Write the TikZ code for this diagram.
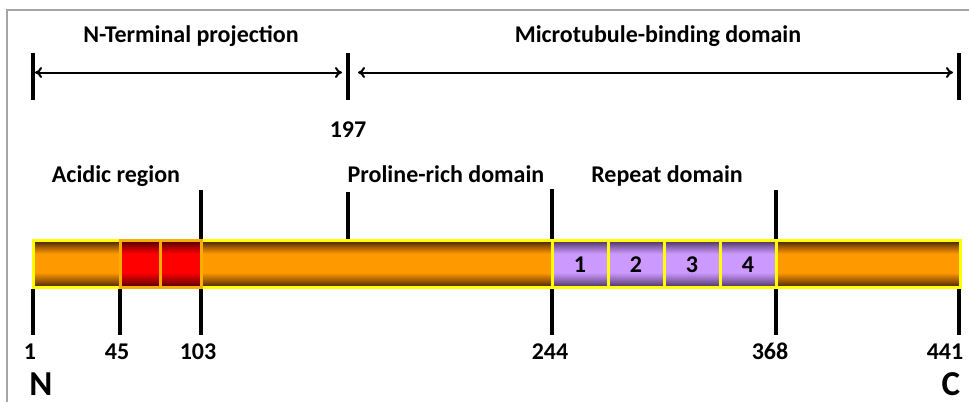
\documentclass[tikz,border=0pt]{standalone}
\usepackage{fontspec}
\setmainfont{Carlito}
\usetikzlibrary{arrows.meta}

% tube shadings: dark rim at top and bottom, bright core
\pgfdeclareverticalshading{orangetube}{100bp}{rgb(0bp)=(0.25,0.12,0); rgb(25bp)=(0.25,0.12,0); rgb(32bp)=(0.6,0.34,0); rgb(41bp)=(1,0.6,0); rgb(61bp)=(1,0.6,0); rgb(69bp)=(0.6,0.34,0); rgb(75bp)=(0.25,0.12,0); rgb(100bp)=(0.25,0.12,0)}
\pgfdeclareverticalshading{redtube}{100bp}{rgb(0bp)=(0.28,0,0); rgb(25bp)=(0.28,0,0); rgb(32bp)=(0.62,0,0); rgb(41bp)=(1,0,0); rgb(61bp)=(1,0,0); rgb(69bp)=(0.62,0,0); rgb(75bp)=(0.28,0,0); rgb(100bp)=(0.28,0,0)}
\pgfdeclareverticalshading{purpletube}{100bp}{rgb(0bp)=(0.28,0.18,0.36); rgb(25bp)=(0.28,0.18,0.36); rgb(32bp)=(0.52,0.38,0.66); rgb(41bp)=(0.8,0.6,1); rgb(61bp)=(0.8,0.6,1); rgb(69bp)=(0.52,0.38,0.66); rgb(75bp)=(0.28,0.18,0.36); rgb(100bp)=(0.28,0.18,0.36)}

\definecolor{rimyellow}{RGB}{255,255,0}
\definecolor{rimgold}{RGB}{245,175,0}
\definecolor{framegray}{RGB}{165,165,165}

\tikzset{
  tick/.style={line width=4pt},
  span/.style={line width=2pt,{To[length=7pt,width=11pt]}-{To[length=7pt,width=11pt]}},
  lbl/.style={font=\bfseries\fontsize{24}{27}\selectfont,anchor=base,inner sep=0pt},
  endlbl/.style={font=\bfseries\fontsize{35}{40}\selectfont,anchor=base,inner sep=0pt},
  seg/.style={line width=3pt},
}

\begin{document}
\begin{tikzpicture}[x=1pt,y=-1pt]
\useasboundingbox (0,0) rectangle (969,402);

% outer frame (top and left edges visible)
\draw[framegray,line width=2pt] (7,402) -- (7,9.5) -- (969,9.5);

% ---- domain brackets ----
\coordinate (bLtop) at (33,53);   \coordinate (bLbot) at (33,100);
\coordinate (bMtop) at (348,53);  \coordinate (bMbot) at (348,100);
\coordinate (bRtop) at (959,53);  \coordinate (bRbot) at (959,100);
\draw[tick] (bLtop) -- (bLbot);
\draw[tick] (bMtop) -- (bMbot);
\draw[tick] (bRtop) -- (bRbot);
\coordinate (a1s) at (35,72.5);  \coordinate (a1e) at (342,72.5);
\coordinate (a2s) at (358,72.5); \coordinate (a2e) at (953,72.5);
\draw[span] (a1s) -- (a1e);
\draw[span] (a2s) -- (a2e);
\node[lbl] (nterm) at (191,42) {N-Terminal projection};
\node[lbl] (mtbd) at (658,42) {Microtubule-binding domain};
\node[lbl] (n197) at (348,137) {197};

% ---- region labels ----
\node[lbl] (acidic) at (116,182) {Acidic region};
\node[lbl] (proline) at (446,182) {Proline-rich domain};
\node[lbl] (repeat) at (667,182) {Repeat domain};

% ticks above the bar
\coordinate (u103t) at (201,190); \coordinate (u103b) at (201,239);
\coordinate (u197t) at (348,192); \coordinate (u197b) at (348,239);
\coordinate (u244t) at (552,189); \coordinate (u244b) at (552,239);
\coordinate (u368t) at (776,190); \coordinate (u368b) at (776,239);
\draw[tick] (u103t) -- (u103b);
\draw[tick] (u197t) -- (u197b);
\draw[tick] (u244t) -- (u244b);
\draw[tick] (u368t) -- (u368b);

% ---- the protein bar ----
\draw[seg,rimyellow,shading=orangetube] (33.5,240.5) rectangle (960.5,287.5);
\draw[seg,rimgold,shading=redtube] (120,240.5) rectangle (160,287.5);
\draw[seg,rimgold,shading=redtube] (160,240.5) rectangle (201,287.5);
\foreach \xa/\xb [count=\i] in {552/608,608/664,664/720,720/776}{
  \draw[seg,rimyellow,shading=purpletube] (\xa,240.5) rectangle (\xb,287.5);
  \node[lbl] (rep\i) at ({(\xa+\xb)/2},272) {\i};
}

% ticks below the bar
\foreach \x/\nm in {33/d1,120/d45,201/d103,552/d244,776/d368,959/d441}{
  \coordinate (\nm t) at (\x,289);
  \coordinate (\nm b) at (\x,335);
  \draw[tick] (\nm t) -- (\nm b);
}

% residue numbers
\node[lbl] (r1)   at (30,359)  {1};
\node[lbl] (r45)  at (117,359) {45};
\node[lbl] (r103) at (198,359) {103};
\node[lbl] (r244) at (550,359) {244};
\node[lbl] (r368) at (770,359) {368};
\node[lbl] (r441) at (945,359) {441};

% termini
\node[endlbl] (nend) at (41,395) {N};
\node[endlbl] (cend) at (951,395) {C};
\end{tikzpicture}
\end{document}
